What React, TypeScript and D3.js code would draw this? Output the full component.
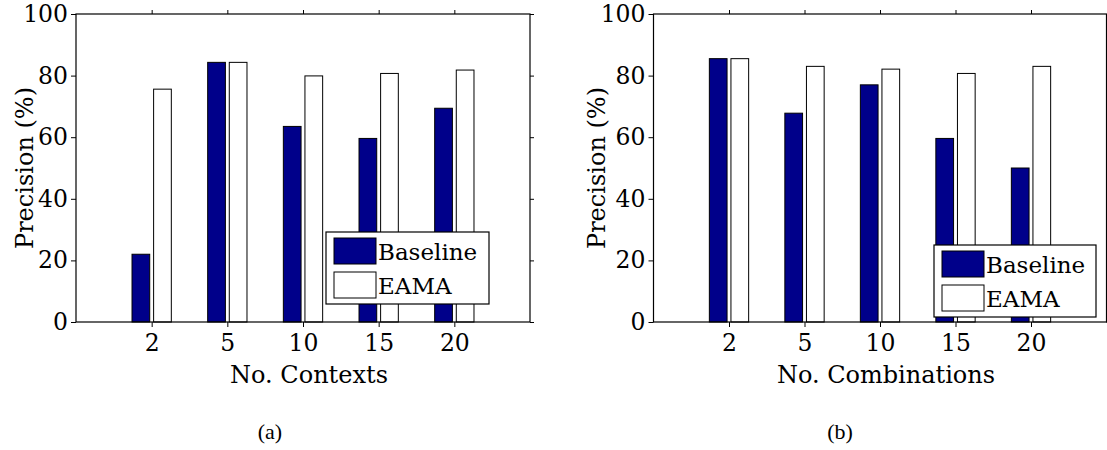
import * as d3 from "d3";
import { useEffect, useRef } from "react";

// values (precision in %)
const categories = ["2", "5", "10", "15", "20"];
const series = ["Baseline", "EAMA"];
const contextsBaseline = [22.0, 84.3, 63.5, 59.6, 69.4];
const contextsEama = [75.6, 84.3, 79.9, 80.7, 81.8];
const combinationsBaseline = [85.5, 67.8, 77.0, 59.6, 50.0];
const combinationsEama = [85.5, 83.0, 82.1, 80.7, 83.0];
const yTicks = [0, 20, 40, 60, 80, 100];

const fills: Record<string, string> = { Baseline: "#00008a", EAMA: "#ffffff" };
const FONT = "DejaVu Serif";
const CAPTION_FONT = "Liberation Serif";

const panels = [
  {
    left: 76, right: 530, xLabel: "No. Contexts", yLabelX: 33,
    values: [contextsBaseline, contextsEama],
    legend: { x: 326, y: 232, w: 163, h: 72 },
    caption: "(a)", captionX: 270,
  },
  {
    left: 653.5, right: 1106.5, xLabel: "No. Combinations", yLabelX: 605,
    values: [combinationsBaseline, combinationsEama],
    legend: { x: 934, y: 245, w: 162, h: 72 },
    caption: "(b)", captionX: 840,
  },
];

function drawPanel(svg: any, p: any) {
  const top = 14, bottom = 322;
  const x = d3.scaleLinear().domain([0, categories.length + 1]).range([p.left, p.right]);
  const y = d3.scaleLinear().domain([0, 100]).range([bottom, top]);
  const inner = d3.scaleBand().domain(series).range([-19.65, 19.65]).paddingInner(0.18);
  const idx = categories.map((_, i) => i + 1);

  const g = svg.append("g").style("font-family", FONT);

  // bars
  series.forEach((s, si) => {
    g.selectAll(null)
      .data(p.values[si])
      .enter()
      .append("rect")
      .attr("x", (d: number, i: number) => x(i + 1) + (inner(s) as number))
      .attr("y", (d: number) => y(d))
      .attr("width", inner.bandwidth())
      .attr("height", (d: number) => y(0) - y(d))
      .attr("fill", fills[s])
      .attr("stroke", "#000")
      .attr("stroke-width", 1);
  });

  // axes, all ticks pointing outward
  const styleAxis = (a: any) => {
    a.attr("font-family", null).attr("font-size", null);
    a.select(".domain").remove();
    a.selectAll("line").attr("stroke", "#000");
    a.selectAll("text").style("font-family", FONT).style("font-size", "23.5px").attr("fill", "#000");
  };
  g.append("g")
    .attr("transform", `translate(${p.left},0)`)
    .call(d3.axisLeft(y).tickValues(yTicks).tickSize(5).tickPadding(3))
    .call(styleAxis);
  g.append("g")
    .attr("transform", `translate(${p.right},0)`)
    .call(d3.axisRight(y).tickValues(yTicks).tickSize(4).tickFormat(() => ""))
    .call(styleAxis);
  g.append("g")
    .attr("transform", `translate(0,${bottom})`)
    .call(
      d3.axisBottom(x).tickValues(idx).tickSize(5).tickPadding(7)
        .tickFormat((d: any) => categories[d - 1])
    )
    .call(styleAxis);
  g.append("g")
    .attr("transform", `translate(0,${top})`)
    .call(d3.axisTop(x).tickValues(idx).tickSize(4).tickFormat(() => ""))
    .call(styleAxis);

  // frame
  g.append("rect")
    .attr("x", p.left).attr("y", top)
    .attr("width", p.right - p.left).attr("height", bottom - top)
    .attr("fill", "none").attr("stroke", "#000").attr("stroke-width", 1.2);

  // axis titles
  g.append("text")
    .attr("x", (p.left + p.right) / 2 + 6).attr("y", 383)
    .attr("text-anchor", "middle").style("font-size", "24px")
    .text(p.xLabel);
  g.append("text")
    .attr("transform", `translate(${p.yLabelX},${(top + bottom) / 2}) rotate(-90)`)
    .attr("text-anchor", "middle").style("font-size", "24px")
    .text("Precision (%)");

  // legend
  const L = p.legend;
  const lg = g.append("g");
  lg.append("rect")
    .attr("x", L.x).attr("y", L.y).attr("width", L.w).attr("height", L.h)
    .attr("fill", "#fff").attr("stroke", "#000").attr("stroke-width", 1.2);
  series.forEach((s, si) => {
    const ry = L.y + 6 + si * 34;
    lg.append("rect")
      .attr("x", L.x + 8).attr("y", ry).attr("width", 42).attr("height", 26)
      .attr("fill", fills[s]).attr("stroke", "#000").attr("stroke-width", 1);
    lg.append("text")
      .attr("x", L.x + 52).attr("y", ry + 22)
      .style("font-size", "23px")
      .text(s);
  });

  // caption
  g.append("text")
    .attr("x", p.captionX).attr("y", 439)
    .attr("text-anchor", "middle")
    .style("font-family", CAPTION_FONT).style("font-size", "22px")
    .text(p.caption);
}

export default function App() {
  const ref = useRef<SVGSVGElement>(null);

  useEffect(() => {
    const svg = d3.select(ref.current);
    svg.selectAll("*").remove();
    panels.forEach((p) => drawPanel(svg, p));
  }, []);

  return (
    <svg
      ref={ref}
      width={1107}
      height={450}
      style={{ position: "absolute", left: 0, top: 0, background: "#fff" }}
    />
  );
}
